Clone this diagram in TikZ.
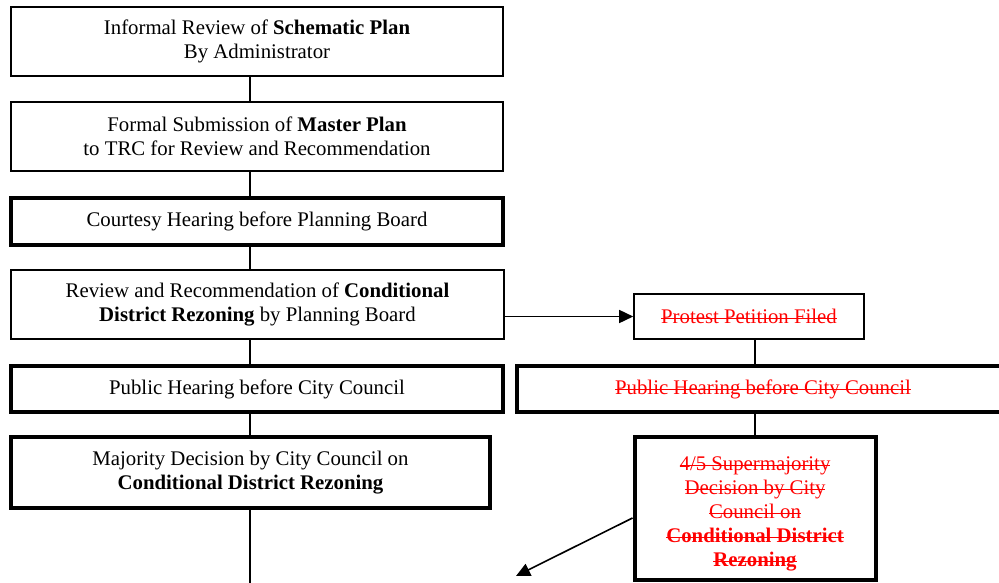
\documentclass[tikz,border=0pt]{standalone}
\usepackage{fontspec}
\setmainfont{Liberation Serif}
\usetikzlibrary{arrows.meta,calc}
\newsavebox\rsbox
\newcommand\rs[1]{\sbox\rsbox{#1}\rlap{\usebox\rsbox}\rule[0.45ex]{\wd\rsbox}{1pt}}
\begin{document}
\begin{tikzpicture}[x=1pt,y=-1pt,
  boxthin/.style={draw=black,line width=1.6pt,rectangle,align=center,inner sep=0pt,
    font=\fontsize{20.8}{24}\selectfont},
  boxthick/.style={boxthin,line width=4pt},
  redtxt/.style={text=red},
  conn/.style={draw=black,line width=1.6pt},
  arr/.style={conn,-{Triangle[length=14pt,width=13pt]}}]
\clip (0,0) rectangle (999,582);
\fill[white] (0,0) rectangle (999,582);
\coordinate (cx) at (250,0);
\coordinate (rx) at (755,0);
\coordinate (bot) at (250,584);
\coordinate (aend) at (516,576);

\node[boxthin,minimum width=492pt,minimum height=69pt] (b1) at (257,41.5)
  {Informal Review of \textbf{Schematic Plan}\\By Administrator};
\node[boxthin,minimum width=492pt,minimum height=69pt] (b2) at (257,136.5)
  {Formal Submission of \textbf{Master Plan}\\to TRC for Review and Recommendation};
\node[boxthick,minimum width=492pt,minimum height=47pt] (b3) at (257,221.5)
  {Courtesy Hearing before Planning Board};
\node[boxthin,minimum width=493pt,minimum height=69pt] (b4) at (257.5,304.5)
  {Review and Recommendation of \textbf{Conditional}\\\textbf{District Rezoning} by Planning Board};
\node[boxthin,redtxt,minimum width=230pt,minimum height=45pt] (b5) at (749,316.5)
  {\rs{Protest Petition Filed}};
\node[boxthick,minimum width=492pt,minimum height=46pt] (b6) at (257,389)
  {Public Hearing before City Council};
\node[boxthick,minimum width=479pt,minimum height=71pt] (b7) at (250.5,472.5)
  {Majority Decision by City Council on\\\textbf{Conditional District Rezoning}};
\node[boxthick,redtxt,minimum width=492pt,minimum height=46pt,anchor=west] (b8) at (515,389)
  {\rs{Public Hearing before City Council}};
\node[boxthick,redtxt,minimum width=241pt,minimum height=143pt] (b9) at (755,508.5)
  {\rule{0pt}{24pt}\rs{4/5 Supermajority}\\\rs{Decision by City}\\\rs{Council on}\\\rs{\textbf{Conditional District}}\\\rs{\textbf{Rezoning}}};

\draw[conn] (b1.south -| cx) -- (b2.north -| cx);
\draw[conn] (b2.south -| cx) -- (b3.north -| cx);
\draw[conn] (b3.south -| cx) -- (b4.north -| cx);
\draw[conn] (b4.south -| cx) -- (b6.north -| cx);
\draw[conn] (b6.south -| cx) -- (b7.north -| cx);
\draw[conn] (b7.south -| cx) -- (bot);
\draw[arr] (b4.east |- b5.west) -- (b5.west);
\draw[conn] (b5.south -| rx) -- (b8.north -| rx);
\draw[conn] (b8.south -| rx) -- (b9.north -| rx);
\draw[arr] ($(b9.west)+(0,9.5)$) -- (aend);
\end{tikzpicture}
\end{document}
